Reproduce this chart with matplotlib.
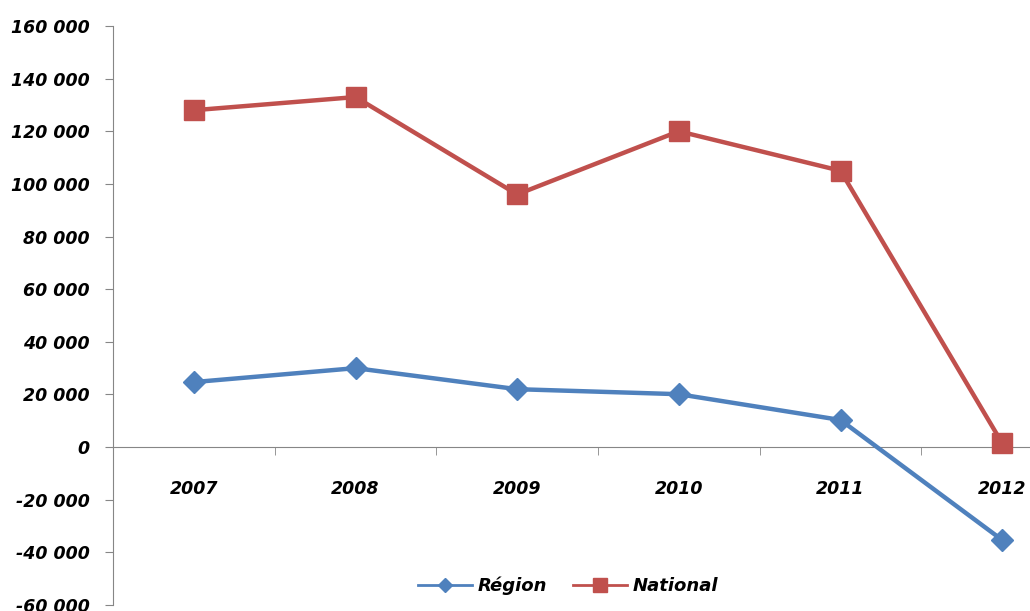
import numpy as np
import matplotlib.pyplot as plt
from matplotlib.lines import Line2D

# data
years = ['2007', '2008', '2009', '2010', '2011', '2012']
region = [24700, 30000, 22000, 20100, 10300, -35300]
national = [128000, 133000, 96000, 120000, 105000, 1500]
yticks = np.arange(-60000, 160001, 20000)

blue = '#4F81BD'
red = '#C0504D'
grey = '#868686'
fnt = dict(family='DejaVu Sans', style='italic', weight='bold', size=12.5)

fig = plt.figure(figsize=(10.3, 6.11), dpi=100)
# axes runs past the right edge, like the cropped original
ax = fig.add_axes([113/1030, 6/611, 970/1030, 579/611])

x = np.arange(len(years))
ax.plot(x, region, color=blue, lw=3.2, marker='D', ms=11, mec=blue, mfc=blue,
        label='Région', clip_on=False, zorder=3)
ax.plot(x, national, color=red, lw=3.2, marker='s', ms=14, mec=red, mfc=red,
        label='National', clip_on=False, zorder=3)

ax.set_xlim(-0.5, 5.5)
ax.set_ylim(-60000, 160000)

# category axis crosses at zero
for s in ['top', 'right']:
    ax.spines[s].set_visible(False)
ax.spines['bottom'].set_position(('data', 0))
ax.spines['bottom'].set_color(grey)
ax.spines['left'].set_color(grey)

ax.set_xticks(x)
ax.set_xticklabels(years, **fnt)
ax.set_xticks(np.arange(-0.5, 5.6, 1), minor=True)
ax.tick_params(axis='x', which='major', length=0, pad=24)
ax.tick_params(axis='x', which='minor', length=6, color=grey, direction='out')

ax.set_yticks(yticks)
ax.set_yticklabels([f'{v:,}'.replace(',', ' ') for v in yticks], **fnt)
ax.tick_params(axis='y', length=6, color=grey, pad=11)

handles = [Line2D([], [], color=blue, lw=2, marker='D', ms=7),
           Line2D([], [], color=red, lw=2, marker='s', ms=10)]
fig.legend(handles, ['Région', 'National'], loc='center',
           bbox_to_anchor=(0.5515, 0.041), ncol=2, frameon=False,
           prop={'family': 'DejaVu Sans', 'style': 'italic', 'weight': 'bold', 'size': 13},
           handlelength=3, columnspacing=1.4, handletextpad=0.33,
           borderpad=0, borderaxespad=0)

fig.savefig('out.png', dpi=100)
